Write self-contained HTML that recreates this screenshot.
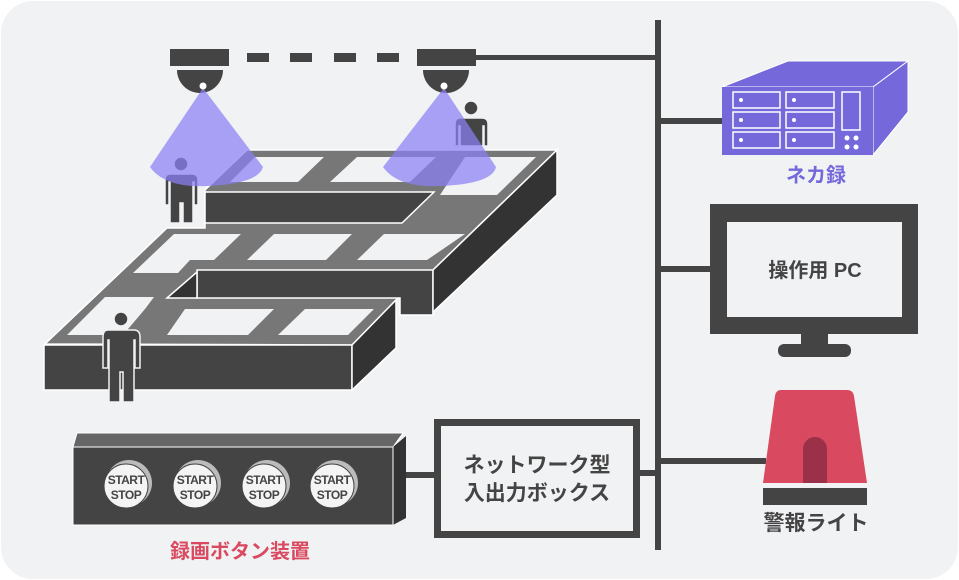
<!DOCTYPE html>
<html><head><meta charset="utf-8"><style>
html,body{margin:0;padding:0;background:#fff;}
svg{display:block;}
text{font-family:"Liberation Sans","Noto Sans CJK JP",sans-serif;font-weight:bold;}
</style></head><body>
<svg width="959" height="580" viewBox="0 0 959 580" xmlns="http://www.w3.org/2000/svg">
<rect x="1" y="1" width="957" height="578" rx="32" fill="#f1f2f4"/>

<!-- bus -->
<rect x="655" y="20" width="6" height="530" fill="#444"/>
<rect x="476" y="55" width="182" height="5" fill="#444"/>
<rect x="658" y="118" width="64" height="6" fill="#444"/>
<rect x="658" y="266" width="52" height="6" fill="#444"/>
<rect x="658" y="458" width="108" height="6" fill="#444"/>
<rect x="638" y="470" width="20" height="6" fill="#444"/>
<rect x="404" y="472" width="30" height="6" fill="#444"/>

<!-- cameras -->
<rect x="170" y="49" width="59" height="17" fill="#444"/>
<rect x="417" y="49" width="59" height="17" fill="#444"/>
<g fill="#444">
<rect x="247" y="53" width="22" height="9"/><rect x="290" y="53" width="22" height="9"/>
<rect x="334" y="53" width="22" height="9"/><rect x="377" y="53" width="22" height="9"/>
</g>
<path d="M177 70 H223 A23 23 0 0 1 177 70 Z" fill="#444"/>
<path d="M423 70 H469 A23 23 0 0 1 423 70 Z" fill="#444"/>

<!-- building -->
<polygon points="247,150 557,150 433,270 396,300 352,345 45,344 167,228 205,228 205,190" fill="#777" stroke="#fff" stroke-width="1.5"/>
<g fill="#f1f2f4">
<polygon points="255,157 324,157 298,182 230,182"/>
<polygon points="357,157 436,157 410,182 330,182"/>
<polygon points="465,157 536,157 497,195 440,195"/>
<polygon points="174,234 241,234 214,260 190,260 178,273 133,273"/>
<polygon points="274,234 352,234 326,260 247,260"/>
<polygon points="384,234 465,234 427,260 357,260"/>
<polygon points="105,297 154,297 145,309 123,335 67,335"/>
<polygon points="185,309 274,309 248,335 167,335"/>
<polygon points="305,309 374,309 348,335 278,335"/>
</g>
<polygon points="205,192 434,192 402,223 205,223" fill="#444" stroke="#fff" stroke-width="1.5"/>
<polygon points="197,270 433,270 433,315 400,315 400,298 197,298" fill="#444" stroke="#fff" stroke-width="1.5"/>
<polygon points="167,298 197,272 197,298" fill="#333" stroke="#fff" stroke-width="1.5"/>
<polygon points="557,150 557,195 433,312 433,270" fill="#333" stroke="#fff" stroke-width="1.5"/>
<rect x="44" y="345" width="308" height="45" fill="#444" stroke="#fff" stroke-width="1.5"/>
<polygon points="352,345 396,300 396,348 352,390" fill="#333" stroke="#fff" stroke-width="1.5"/>

<!-- people -->
<g fill="#444" stroke="#f1f2f4" stroke-width="1.5">
<circle cx="181" cy="164" r="7"/>
<path d="M170 174 H192 Q198 174 198 180 V205 H194 V182 H193 V223 H183 V203 H180 V223 H170 V182 H169 V205 H165 V180 Q165 174 170 174 Z"/>
<circle cx="471" cy="108" r="7"/>
<path d="M460 118 H482 Q488 118 488 124 V146 H484 V126 H483 V146 H460 V126 H459 V146 H455 V124 Q455 118 460 118 Z"/>
<circle cx="121" cy="319" r="7"/>
<path d="M108 330 H134 Q140 330 140 337 V368 H135 V340 H134 V402 H123 V372 H120 V402 H109 V340 H108 V368 H103 V337 Q103 330 108 330 Z"/>
</g>

<!-- cones -->
<path d="M203 88 L150 167 Q165 188 207 186 Q258 184 263 167 Z" fill="#8a80f5" opacity="0.72"/>
<path d="M444 88 L383 167 Q398 188 440 186 Q492 184 496 167 Z" fill="#8a80f5" opacity="0.72"/>
<circle cx="203" cy="86" r="3.5" fill="#fff"/>
<circle cx="444" cy="86" r="3.5" fill="#fff"/>

<!-- NVR -->
<polygon points="722,87 788,61 908,61 873,87" fill="#7468db" stroke="#fff" stroke-width="1"/>
<polygon points="873,87 908,61 908,112 873,155" fill="#7468db" stroke="#fff" stroke-width="1"/>
<rect x="722" y="87" width="151" height="68" fill="#7468db"/>
<g fill="none" stroke="#fff" stroke-width="1.5">
<rect x="733" y="92" width="47" height="16"/><rect x="786" y="92" width="48" height="16"/>
<rect x="733" y="112" width="47" height="16"/><rect x="786" y="112" width="48" height="16"/>
<rect x="733" y="132" width="47" height="16"/><rect x="786" y="132" width="48" height="16"/>
<rect x="842" y="92" width="18" height="38"/>
</g>
<g fill="#fff">
<circle cx="741" cy="100" r="2"/><circle cx="794" cy="100" r="2"/>
<circle cx="741" cy="120" r="2"/><circle cx="794" cy="120" r="2"/>
<circle cx="741" cy="140" r="2"/><circle cx="794" cy="140" r="2"/>
<circle cx="847" cy="138" r="2.5"/><circle cx="856" cy="138" r="2.5"/>
<circle cx="847" cy="147" r="2.5"/><circle cx="856" cy="147" r="2.5"/>
</g>
<text x="816" y="182" font-size="20" fill="#7468db" text-anchor="middle">ネカ録</text>

<!-- PC -->
<rect x="710" y="204" width="208" height="130" fill="#444"/>
<rect x="727" y="222" width="175" height="95" fill="#f1f2f4"/>
<rect x="801" y="334" width="27" height="12" fill="#444"/>
<rect x="778" y="344" width="73" height="13" rx="6" fill="#444"/>
<text x="815" y="277" font-size="20" fill="#444" text-anchor="middle">操作用 PC</text>

<!-- light -->
<path d="M781 390 H847 Q853 390 854 396 L867 483 H763 L775 396 Q776 390 781 390 Z" fill="#d94a60"/>
<path d="M803 483 V449 A12 12 0 0 1 827 449 V483 Z" fill="#9b3148"/>
<rect x="763" y="488" width="104" height="17" fill="#444"/>
<text x="816" y="530" font-size="21" fill="#444" text-anchor="middle">警報ライト</text>

<!-- button device -->
<polygon points="77,433 403,433 393,447 73,447" fill="#666" stroke="#fff" stroke-width="1"/>
<polygon points="393,447 406,436 406,518 393,525" fill="#333"/>
<rect x="73" y="447" width="320" height="78" fill="#444" stroke="#fff" stroke-width="1"/>
<g>
<circle cx="129" cy="483" r="23" fill="#bbb"/><circle cx="126" cy="486" r="22" fill="#f4f4f4" stroke="#444" stroke-width="1"/>
<circle cx="198" cy="483" r="23" fill="#bbb"/><circle cx="195" cy="486" r="22" fill="#f4f4f4" stroke="#444" stroke-width="1"/>
<circle cx="267" cy="483" r="23" fill="#bbb"/><circle cx="264" cy="486" r="22" fill="#f4f4f4" stroke="#444" stroke-width="1"/>
<circle cx="335" cy="483" r="23" fill="#bbb"/><circle cx="332" cy="486" r="22" fill="#f4f4f4" stroke="#444" stroke-width="1"/>
</g>
<g font-size="12" fill="#444" text-anchor="middle" letter-spacing="-0.5">
<text x="126" y="484">START</text><text x="126" y="499">STOP</text>
<text x="195" y="484">START</text><text x="195" y="499">STOP</text>
<text x="264" y="484">START</text><text x="264" y="499">STOP</text>
<text x="332" y="484">START</text><text x="332" y="499">STOP</text>
</g>
<text x="240" y="558" font-size="20" fill="#d94a60" text-anchor="middle">録画ボタン装置</text>

<!-- IO box -->
<rect x="437.5" y="422.5" width="199" height="112" fill="#f1f2f4" stroke="#444" stroke-width="7"/>
<text x="537" y="472" font-size="21" fill="#444" text-anchor="middle">ネットワーク型</text>
<text x="537" y="500" font-size="21" fill="#444" text-anchor="middle">入出力ボックス</text>
</svg>
</body></html>
